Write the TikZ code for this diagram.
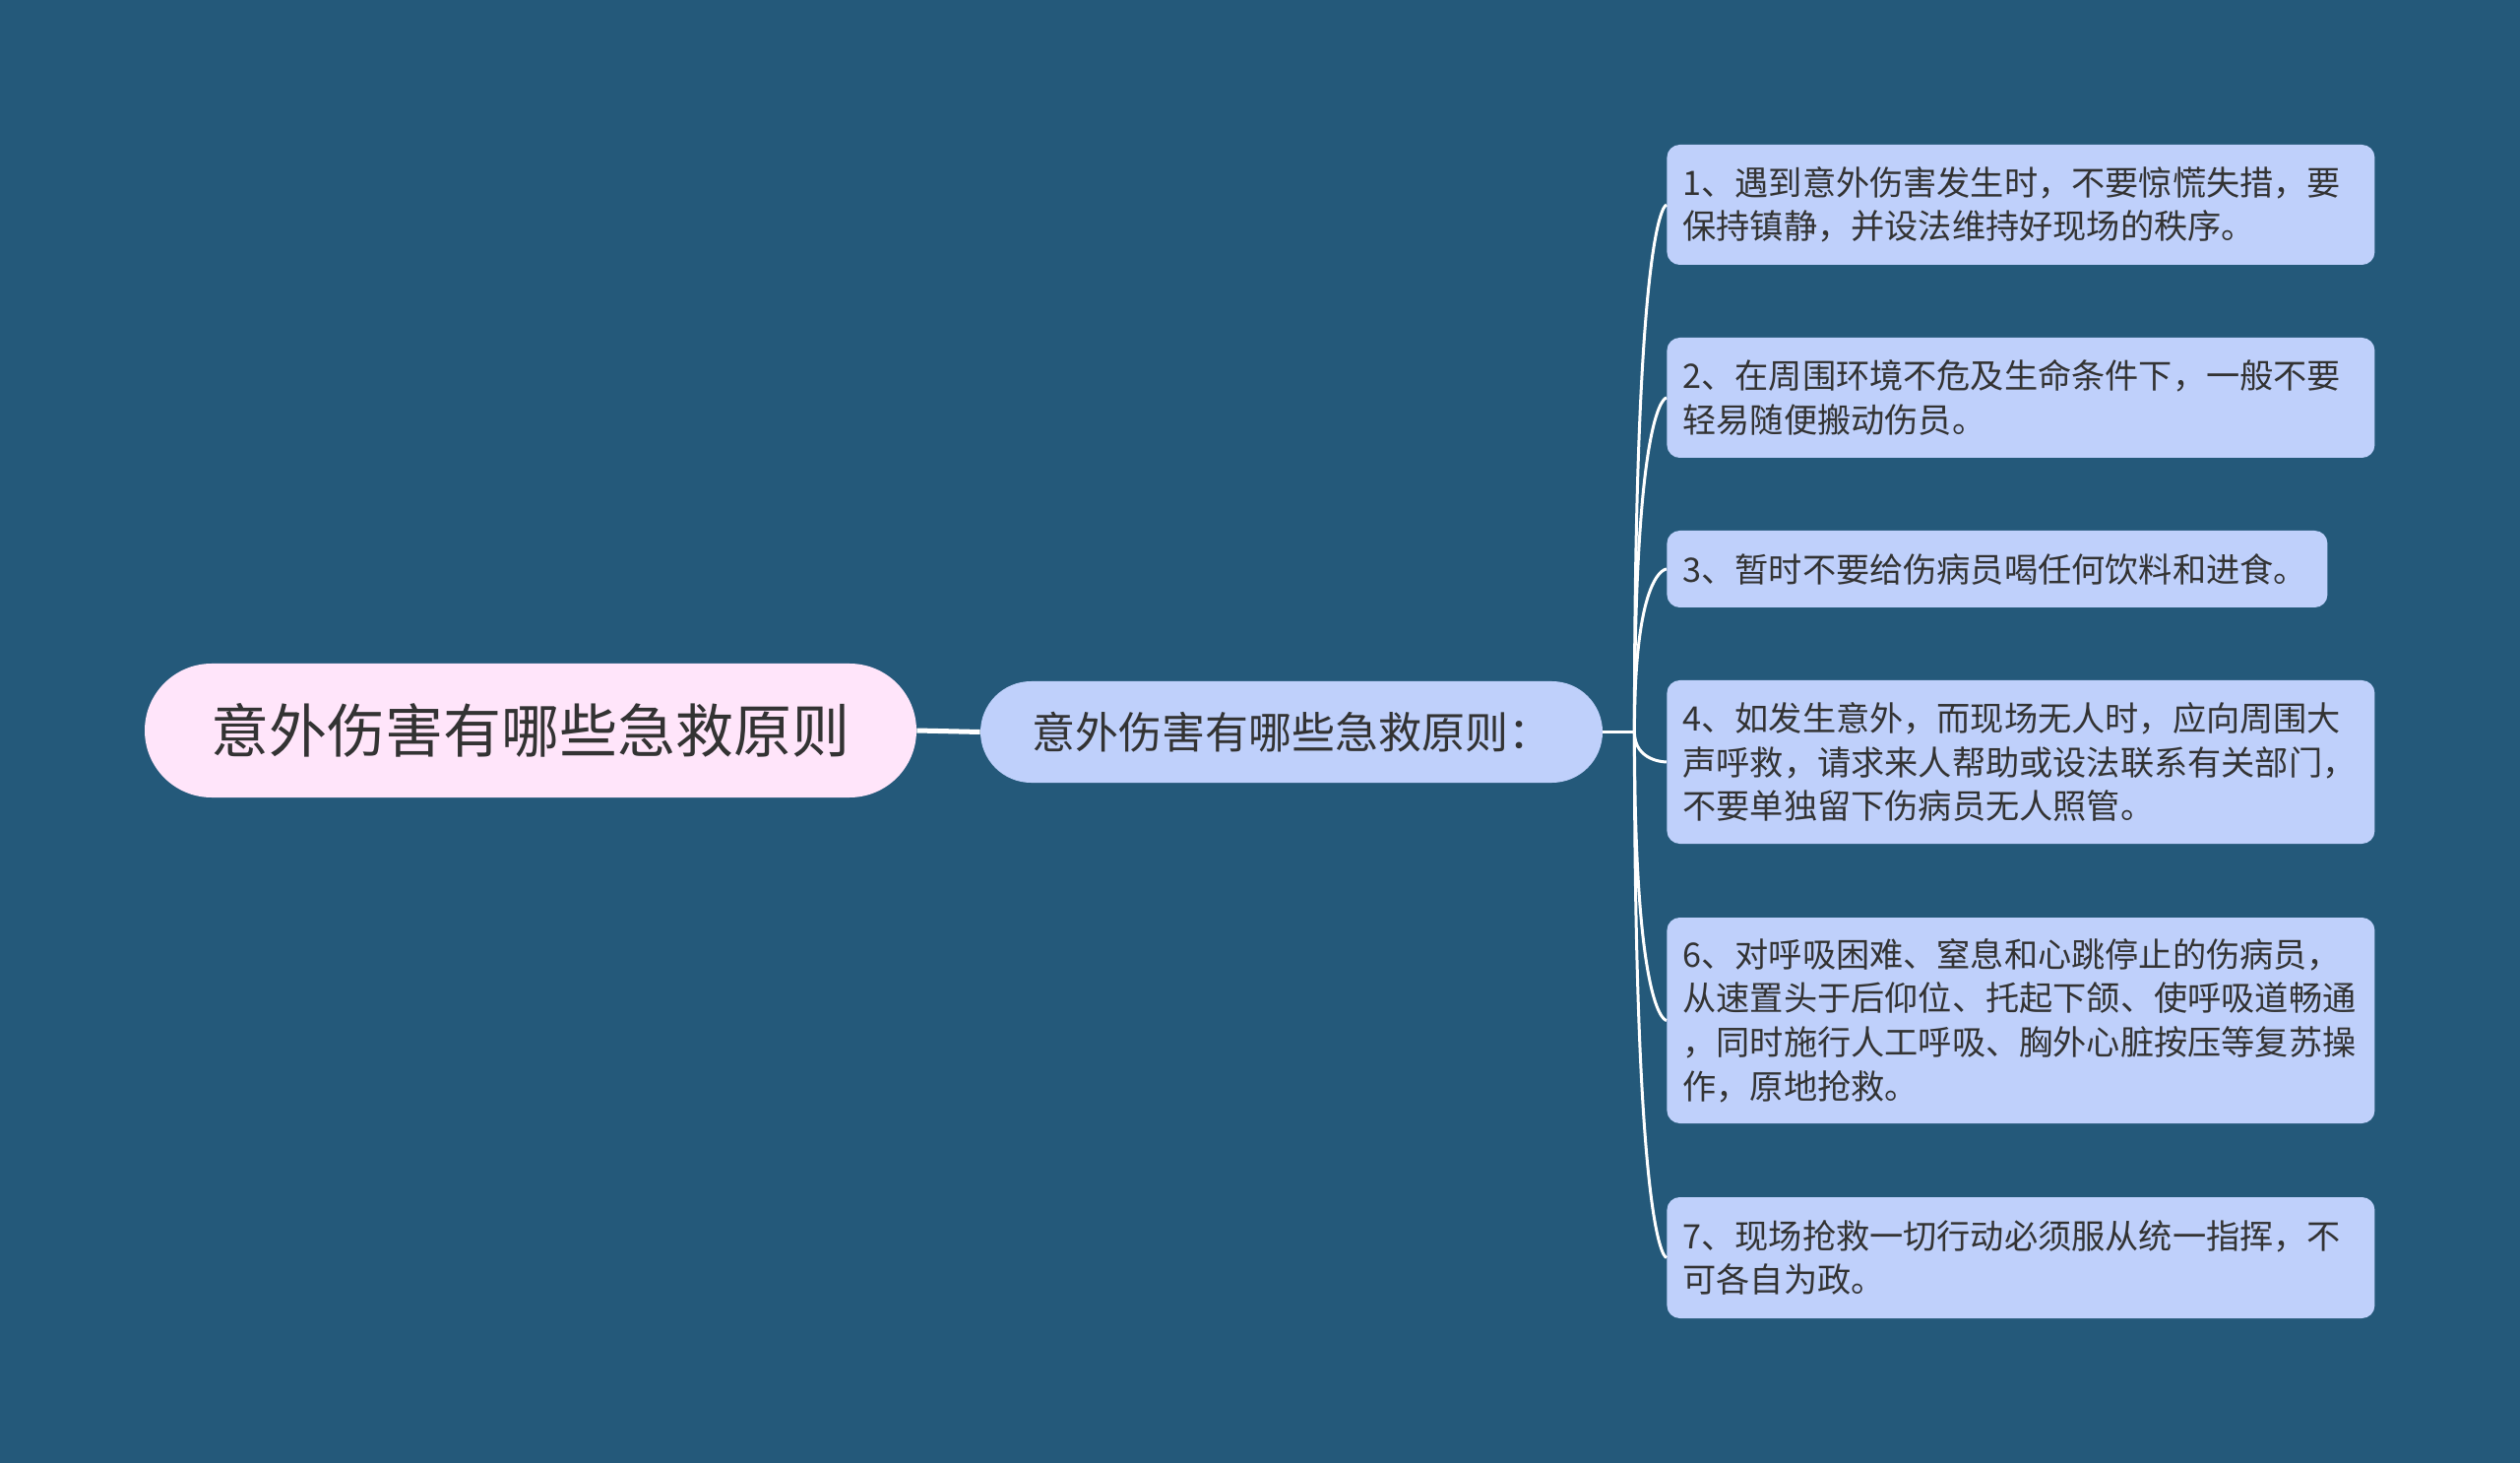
\documentclass[tikz,border=0pt]{standalone}
\usepackage{fontspec}
\setmainfont{Noto Sans CJK SC}
\usetikzlibrary{calc}
\definecolor{bg}{RGB}{36,89,122}
\definecolor{rootfill}{RGB}{255,229,250}
\definecolor{leaffill}{RGB}{191,208,251}
\definecolor{txt}{RGB}{51,51,51}
\tikzset{
  rootbox/.style={fill=rootfill, rounded corners=34pt, minimum width=392pt, minimum height=68pt, inner sep=0pt, text=txt, font=\fontsize{29.5}{34}\selectfont},
  midbox/.style={fill=leaffill, rounded corners=25.75pt, minimum width=316pt, minimum height=51.5pt, inner sep=0pt, text=txt, font=\fontsize{22}{26}\selectfont},
  leafbox/.style={fill=leaffill, rounded corners=6.5pt, anchor=west, inner xsep=8pt, inner ysep=0pt, text width=343.5pt, align=left, text=txt, font=\fontsize{17.1}{22.3}\selectfont},
  trunk/.style={draw=white, line width=2.5pt},
  branch/.style={draw=white, line width=1.5pt}
}
\begin{document}
\begin{tikzpicture}[x=0.5pt,y=-0.5pt]
\fill[bg] (0,0) rectangle (2560,1486);
\useasboundingbox (0,0) rectangle (2560,1486);
\node[rootbox] (root) at (539,742) {意外伤害有哪些急救原则};
\node[midbox] (mid) at (1312,743.5) {意外伤害有哪些急救原则：};
\node[leafbox, minimum height=61pt] (l1) at (1693,208) {1、遇到意外伤害发生时，不要惊慌失措，要\\保持镇静，并设法维持好现场的秩序。};
\node[leafbox, minimum height=61pt] (l2) at (1693,404) {2、在周围环境不危及生命条件下，一般不要\\轻易随便搬动伤员。};
\node[leafbox, minimum height=39pt, text width=319.5pt] (l3) at (1693,578) {3、暂时不要给伤病员喝任何饮料和进食。};
\node[leafbox, minimum height=83pt] (l4) at (1693,774) {4、如发生意外，而现场无人时，应向周围大\\声呼救，请求来人帮助或设法联系有关部门，\\不要单独留下伤病员无人照管。};
\node[leafbox, minimum height=104.5pt] (l6) at (1693,1036.5) {6、对呼吸困难、窒息和心跳停止的伤病员，\\从速置头于后仰位、托起下颌、使呼吸道畅通\\，同时施行人工呼吸、胸外心脏按压等复苏操\\作，原地抢救。};
\node[leafbox, minimum height=61.5pt] (l7) at (1693,1277.5) {7、现场抢救一切行动必须服从统一指挥，不\\可各自为政。};
\draw[trunk] (root.east) -- (mid.west);
\coordinate (j) at ($(mid.east)+(32,0)$);
\draw[branch] (mid.east) -- (j);
\foreach \n in {l1,l2,l3,l4,l6,l7}
  \draw[branch] (j) .. controls (j |- \n.west) and (\n.west) .. (\n.west);
\end{tikzpicture}
\end{document}
